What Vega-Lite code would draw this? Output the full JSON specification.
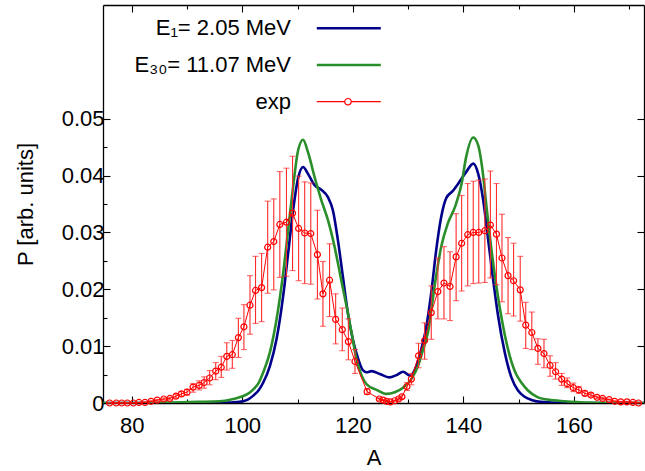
{
  "$schema": "https://vega.github.io/schema/vega-lite/v6.json",
  "autosize": {"type": "none"},
  "padding": {"left": 103, "top": 5, "right": 1, "bottom": 68},
  "width": 541,
  "height": 398,
  "background": "white",
  "config": {
    "font": "Liberation Sans",
    "view": {"stroke": null},
    "axis": {
      "domainColor": "black", "domainWidth": 1.3, "tickColor": "black", "tickWidth": 1.1,
      "labelFont": "Liberation Sans", "labelFontSize": 22, "labelColor": "black",
      "titleFont": "Liberation Sans", "titleFontSize": 22, "titleFontWeight": "normal", "titleColor": "black",
      "grid": false, "labelOverlap": false, "labelFlush": false, "labelBound": false
    }
  },
  "datasets": {
    "theory": [
      {"A": 74.8, "P": 0, "s": "E₁= 2.05 MeV"},
      {"A": 90, "P": 0, "s": "E₁= 2.05 MeV"},
      {"A": 96, "P": 0, "s": "E₁= 2.05 MeV"},
      {"A": 98, "P": 0.0001, "s": "E₁= 2.05 MeV"},
      {"A": 99.5, "P": 0.0002, "s": "E₁= 2.05 MeV"},
      {"A": 101, "P": 0.0006, "s": "E₁= 2.05 MeV"},
      {"A": 102, "P": 0.0013, "s": "E₁= 2.05 MeV"},
      {"A": 103, "P": 0.0023, "s": "E₁= 2.05 MeV"},
      {"A": 103.8, "P": 0.0036, "s": "E₁= 2.05 MeV"},
      {"A": 105.0, "P": 0.0065, "s": "E₁= 2.05 MeV"},
      {"A": 106.2, "P": 0.0112, "s": "E₁= 2.05 MeV"},
      {"A": 107.4, "P": 0.0188, "s": "E₁= 2.05 MeV"},
      {"A": 108.3, "P": 0.0263, "s": "E₁= 2.05 MeV"},
      {"A": 109.2, "P": 0.0339, "s": "E₁= 2.05 MeV"},
      {"A": 110.1, "P": 0.0395, "s": "E₁= 2.05 MeV"},
      {"A": 111.0, "P": 0.0415, "s": "E₁= 2.05 MeV"},
      {"A": 111.9, "P": 0.0403, "s": "E₁= 2.05 MeV"},
      {"A": 113.1, "P": 0.0383, "s": "E₁= 2.05 MeV"},
      {"A": 114.3, "P": 0.0375, "s": "E₁= 2.05 MeV"},
      {"A": 115.5, "P": 0.0362, "s": "E₁= 2.05 MeV"},
      {"A": 116.4, "P": 0.0339, "s": "E₁= 2.05 MeV"},
      {"A": 117.3, "P": 0.0287, "s": "E₁= 2.05 MeV"},
      {"A": 118.2, "P": 0.0223, "s": "E₁= 2.05 MeV"},
      {"A": 119.1, "P": 0.0159, "s": "E₁= 2.05 MeV"},
      {"A": 120.0, "P": 0.0112, "s": "E₁= 2.05 MeV"},
      {"A": 121.0, "P": 0.0077, "s": "E₁= 2.05 MeV"},
      {"A": 121.8, "P": 0.0058, "s": "E₁= 2.05 MeV"},
      {"A": 122.5, "P": 0.0054, "s": "E₁= 2.05 MeV"},
      {"A": 123.4, "P": 0.0056, "s": "E₁= 2.05 MeV"},
      {"A": 124.9, "P": 0.0051, "s": "E₁= 2.05 MeV"},
      {"A": 126.6, "P": 0.0045, "s": "E₁= 2.05 MeV"},
      {"A": 127.9, "P": 0.0049, "s": "E₁= 2.05 MeV"},
      {"A": 129.1, "P": 0.0055, "s": "E₁= 2.05 MeV"},
      {"A": 130.4, "P": 0.0048, "s": "E₁= 2.05 MeV"},
      {"A": 131.5, "P": 0.0065, "s": "E₁= 2.05 MeV"},
      {"A": 132.4, "P": 0.0095, "s": "E₁= 2.05 MeV"},
      {"A": 133.2, "P": 0.0128, "s": "E₁= 2.05 MeV"},
      {"A": 134.2, "P": 0.0194, "s": "E₁= 2.05 MeV"},
      {"A": 135.1, "P": 0.0269, "s": "E₁= 2.05 MeV"},
      {"A": 136.0, "P": 0.0327, "s": "E₁= 2.05 MeV"},
      {"A": 136.9, "P": 0.0360, "s": "E₁= 2.05 MeV"},
      {"A": 138.1, "P": 0.0373, "s": "E₁= 2.05 MeV"},
      {"A": 139.3, "P": 0.0389, "s": "E₁= 2.05 MeV"},
      {"A": 140.5, "P": 0.0406, "s": "E₁= 2.05 MeV"},
      {"A": 141.8, "P": 0.0421, "s": "E₁= 2.05 MeV"},
      {"A": 142.7, "P": 0.0403, "s": "E₁= 2.05 MeV"},
      {"A": 143.6, "P": 0.0357, "s": "E₁= 2.05 MeV"},
      {"A": 144.5, "P": 0.0287, "s": "E₁= 2.05 MeV"},
      {"A": 145.4, "P": 0.0217, "s": "E₁= 2.05 MeV"},
      {"A": 146.3, "P": 0.0153, "s": "E₁= 2.05 MeV"},
      {"A": 147.5, "P": 0.0089, "s": "E₁= 2.05 MeV"},
      {"A": 148.7, "P": 0.0045, "s": "E₁= 2.05 MeV"},
      {"A": 149.9, "P": 0.0022, "s": "E₁= 2.05 MeV"},
      {"A": 151.1, "P": 0.0011, "s": "E₁= 2.05 MeV"},
      {"A": 152.5, "P": 0.0005, "s": "E₁= 2.05 MeV"},
      {"A": 154, "P": 0.0002, "s": "E₁= 2.05 MeV"},
      {"A": 156, "P": 0.0001, "s": "E₁= 2.05 MeV"},
      {"A": 160, "P": 0, "s": "E₁= 2.05 MeV"},
      {"A": 172.7, "P": 0, "s": "E₁= 2.05 MeV"},
      {"A": 74.8, "P": 0, "s": "E₃₀= 11.07 MeV"},
      {"A": 84, "P": 0, "s": "E₃₀= 11.07 MeV"},
      {"A": 88, "P": 0.0001, "s": "E₃₀= 11.07 MeV"},
      {"A": 92, "P": 0.0002, "s": "E₃₀= 11.07 MeV"},
      {"A": 95.9, "P": 0.0003, "s": "E₃₀= 11.07 MeV"},
      {"A": 98, "P": 0.0006, "s": "E₃₀= 11.07 MeV"},
      {"A": 99.5, "P": 0.0010, "s": "E₃₀= 11.07 MeV"},
      {"A": 101, "P": 0.0016, "s": "E₃₀= 11.07 MeV"},
      {"A": 102.0, "P": 0.0024, "s": "E₃₀= 11.07 MeV"},
      {"A": 103.0, "P": 0.0036, "s": "E₃₀= 11.07 MeV"},
      {"A": 103.8, "P": 0.0054, "s": "E₃₀= 11.07 MeV"},
      {"A": 105.0, "P": 0.0089, "s": "E₃₀= 11.07 MeV"},
      {"A": 106.2, "P": 0.0147, "s": "E₃₀= 11.07 MeV"},
      {"A": 107.4, "P": 0.0228, "s": "E₃₀= 11.07 MeV"},
      {"A": 108.3, "P": 0.0304, "s": "E₃₀= 11.07 MeV"},
      {"A": 109.2, "P": 0.0380, "s": "E₃₀= 11.07 MeV"},
      {"A": 110.1, "P": 0.0444, "s": "E₃₀= 11.07 MeV"},
      {"A": 111.0, "P": 0.0463, "s": "E₃₀= 11.07 MeV"},
      {"A": 111.9, "P": 0.0441, "s": "E₃₀= 11.07 MeV"},
      {"A": 113.1, "P": 0.0397, "s": "E₃₀= 11.07 MeV"},
      {"A": 114.3, "P": 0.0357, "s": "E₃₀= 11.07 MeV"},
      {"A": 115.5, "P": 0.0322, "s": "E₃₀= 11.07 MeV"},
      {"A": 116.7, "P": 0.0275, "s": "E₃₀= 11.07 MeV"},
      {"A": 117.9, "P": 0.0217, "s": "E₃₀= 11.07 MeV"},
      {"A": 119.1, "P": 0.0159, "s": "E₃₀= 11.07 MeV"},
      {"A": 120.0, "P": 0.0112, "s": "E₃₀= 11.07 MeV"},
      {"A": 120.6, "P": 0.0080, "s": "E₃₀= 11.07 MeV"},
      {"A": 121.6, "P": 0.0048, "s": "E₃₀= 11.07 MeV"},
      {"A": 122.5, "P": 0.0033, "s": "E₃₀= 11.07 MeV"},
      {"A": 124.3, "P": 0.0023, "s": "E₃₀= 11.07 MeV"},
      {"A": 126.1, "P": 0.0016, "s": "E₃₀= 11.07 MeV"},
      {"A": 127.6, "P": 0.0019, "s": "E₃₀= 11.07 MeV"},
      {"A": 129.1, "P": 0.0027, "s": "E₃₀= 11.07 MeV"},
      {"A": 130.6, "P": 0.0042, "s": "E₃₀= 11.07 MeV"},
      {"A": 131.8, "P": 0.0065, "s": "E₃₀= 11.07 MeV"},
      {"A": 132.6, "P": 0.0090, "s": "E₃₀= 11.07 MeV"},
      {"A": 133.6, "P": 0.0124, "s": "E₃₀= 11.07 MeV"},
      {"A": 134.8, "P": 0.0205, "s": "E₃₀= 11.07 MeV"},
      {"A": 136.0, "P": 0.0275, "s": "E₃₀= 11.07 MeV"},
      {"A": 137.2, "P": 0.0316, "s": "E₃₀= 11.07 MeV"},
      {"A": 138.5, "P": 0.0345, "s": "E₃₀= 11.07 MeV"},
      {"A": 139.7, "P": 0.0386, "s": "E₃₀= 11.07 MeV"},
      {"A": 140.5, "P": 0.0432, "s": "E₃₀= 11.07 MeV"},
      {"A": 141.8, "P": 0.0467, "s": "E₃₀= 11.07 MeV"},
      {"A": 142.7, "P": 0.0453, "s": "E₃₀= 11.07 MeV"},
      {"A": 143.4, "P": 0.0415, "s": "E₃₀= 11.07 MeV"},
      {"A": 144.2, "P": 0.0345, "s": "E₃₀= 11.07 MeV"},
      {"A": 145.1, "P": 0.0269, "s": "E₃₀= 11.07 MeV"},
      {"A": 146.0, "P": 0.0205, "s": "E₃₀= 11.07 MeV"},
      {"A": 147.2, "P": 0.0135, "s": "E₃₀= 11.07 MeV"},
      {"A": 148.4, "P": 0.0083, "s": "E₃₀= 11.07 MeV"},
      {"A": 149.6, "P": 0.0050, "s": "E₃₀= 11.07 MeV"},
      {"A": 150.5, "P": 0.0036, "s": "E₃₀= 11.07 MeV"},
      {"A": 151.7, "P": 0.0022, "s": "E₃₀= 11.07 MeV"},
      {"A": 153.5, "P": 0.0010, "s": "E₃₀= 11.07 MeV"},
      {"A": 155.3, "P": 0.0006, "s": "E₃₀= 11.07 MeV"},
      {"A": 158.4, "P": 0.0003, "s": "E₃₀= 11.07 MeV"},
      {"A": 162, "P": 0.0001, "s": "E₃₀= 11.07 MeV"},
      {"A": 172.7, "P": 0, "s": "E₃₀= 11.07 MeV"}
    ],
    "exp": [
      {"A": 76.0, "P": 0.0, "lo": 0.0, "hi": 0.0},
      {"A": 77.2, "P": 0.0, "lo": 0.0, "hi": 0.0},
      {"A": 78.2, "P": 0.0, "lo": 0.0, "hi": 0.0},
      {"A": 79.2, "P": 0.0, "lo": 0.0, "hi": 0.0},
      {"A": 80.3, "P": 0.0, "lo": 0.0, "hi": 0.0001},
      {"A": 81.3, "P": 0.0001, "lo": 0.0, "hi": 0.0001},
      {"A": 82.4, "P": 0.0001, "lo": 0.0001, "hi": 0.0002},
      {"A": 83.5, "P": 0.0003, "lo": 0.0002, "hi": 0.0004},
      {"A": 84.6, "P": 0.0005, "lo": 0.0003, "hi": 0.0006},
      {"A": 85.8, "P": 0.0007, "lo": 0.0005, "hi": 0.0009},
      {"A": 86.9, "P": 0.0008, "lo": 0.0006, "hi": 0.0010},
      {"A": 88.0, "P": 0.0012, "lo": 0.0009, "hi": 0.0015},
      {"A": 89.0, "P": 0.0016, "lo": 0.0012, "hi": 0.0020},
      {"A": 90.0, "P": 0.0019, "lo": 0.0014, "hi": 0.0024},
      {"A": 91.1, "P": 0.0028, "lo": 0.0019, "hi": 0.0034},
      {"A": 92.2, "P": 0.0031, "lo": 0.0023, "hi": 0.0039},
      {"A": 93.1, "P": 0.0036, "lo": 0.0026, "hi": 0.0046},
      {"A": 94.1, "P": 0.0044, "lo": 0.0032, "hi": 0.0057},
      {"A": 95.2, "P": 0.0056, "lo": 0.0041, "hi": 0.0071},
      {"A": 96.2, "P": 0.0063, "lo": 0.0045, "hi": 0.0082},
      {"A": 97.2, "P": 0.0082, "lo": 0.0058, "hi": 0.0106},
      {"A": 98.2, "P": 0.0085, "lo": 0.0061, "hi": 0.0110},
      {"A": 99.3, "P": 0.0115, "lo": 0.0080, "hi": 0.0149},
      {"A": 100.3, "P": 0.0134, "lo": 0.0094, "hi": 0.0173},
      {"A": 101.4, "P": 0.0172, "lo": 0.0121, "hi": 0.0224},
      {"A": 102.4, "P": 0.0198, "lo": 0.0140, "hi": 0.0258},
      {"A": 103.5, "P": 0.0203, "lo": 0.0143, "hi": 0.0263},
      {"A": 104.6, "P": 0.0274, "lo": 0.0193, "hi": 0.0355},
      {"A": 105.7, "P": 0.0284, "lo": 0.0199, "hi": 0.0359},
      {"A": 106.8, "P": 0.0314, "lo": 0.0221, "hi": 0.0407},
      {"A": 108.0, "P": 0.0318, "lo": 0.0223, "hi": 0.0413},
      {"A": 109.1, "P": 0.0334, "lo": 0.0233, "hi": 0.0434},
      {"A": 110.2, "P": 0.0307, "lo": 0.0215, "hi": 0.0399},
      {"A": 111.3, "P": 0.0299, "lo": 0.0210, "hi": 0.0389},
      {"A": 112.4, "P": 0.0298, "lo": 0.0209, "hi": 0.0387},
      {"A": 113.6, "P": 0.0261, "lo": 0.0183, "hi": 0.0339},
      {"A": 114.6, "P": 0.0192, "lo": 0.0135, "hi": 0.0249},
      {"A": 115.8, "P": 0.0216, "lo": 0.0152, "hi": 0.0280},
      {"A": 116.9, "P": 0.0147, "lo": 0.0104, "hi": 0.0192},
      {"A": 118.1, "P": 0.0129, "lo": 0.0092, "hi": 0.0167},
      {"A": 119.2, "P": 0.0108, "lo": 0.0076, "hi": 0.0148},
      {"A": 120.4, "P": 0.0073, "lo": 0.0052, "hi": 0.0094},
      {"A": 122.6, "P": 0.0020, "lo": 0.0015, "hi": 0.0025},
      {"A": 124.8, "P": 0.0007, "lo": 0.0005, "hi": 0.0009},
      {"A": 125.5, "P": 0.0005, "lo": 0.0004, "hi": 0.0006},
      {"A": 126.1, "P": 0.0003, "lo": 0.0002, "hi": 0.0004},
      {"A": 126.8, "P": 0.0002, "lo": 0.0001, "hi": 0.0003},
      {"A": 127.6, "P": 0.0004, "lo": 0.0003, "hi": 0.0005},
      {"A": 128.3, "P": 0.0007, "lo": 0.0005, "hi": 0.0009},
      {"A": 128.9, "P": 0.0011, "lo": 0.0008, "hi": 0.0014},
      {"A": 129.8, "P": 0.0029, "lo": 0.0022, "hi": 0.0036},
      {"A": 130.6, "P": 0.0042, "lo": 0.0032, "hi": 0.0052},
      {"A": 131.9, "P": 0.0083, "lo": 0.0062, "hi": 0.0105},
      {"A": 133.0, "P": 0.0110, "lo": 0.0077, "hi": 0.0141},
      {"A": 134.2, "P": 0.0159, "lo": 0.0112, "hi": 0.0206},
      {"A": 135.4, "P": 0.0196, "lo": 0.0148, "hi": 0.0255},
      {"A": 136.5, "P": 0.0211, "lo": 0.0148, "hi": 0.0275},
      {"A": 137.6, "P": 0.0205, "lo": 0.0145, "hi": 0.0266},
      {"A": 138.7, "P": 0.0257, "lo": 0.0180, "hi": 0.0333},
      {"A": 139.7, "P": 0.0281, "lo": 0.0197, "hi": 0.0365},
      {"A": 140.8, "P": 0.0296, "lo": 0.0206, "hi": 0.0386},
      {"A": 141.8, "P": 0.0300, "lo": 0.0210, "hi": 0.0390},
      {"A": 142.8, "P": 0.0300, "lo": 0.0211, "hi": 0.0392},
      {"A": 143.9, "P": 0.0303, "lo": 0.0212, "hi": 0.0394},
      {"A": 144.9, "P": 0.0313, "lo": 0.0220, "hi": 0.0408},
      {"A": 146.0, "P": 0.0297, "lo": 0.0208, "hi": 0.0386},
      {"A": 147.0, "P": 0.0255, "lo": 0.0178, "hi": 0.0332},
      {"A": 148.1, "P": 0.0224, "lo": 0.0157, "hi": 0.0291},
      {"A": 149.1, "P": 0.0215, "lo": 0.0153, "hi": 0.0281},
      {"A": 150.3, "P": 0.0199, "lo": 0.0144, "hi": 0.0258},
      {"A": 151.3, "P": 0.0137, "lo": 0.0096, "hi": 0.0177},
      {"A": 152.4, "P": 0.0124, "lo": 0.0094, "hi": 0.0160},
      {"A": 153.5, "P": 0.0096, "lo": 0.0068, "hi": 0.0113},
      {"A": 154.6, "P": 0.0087, "lo": 0.0062, "hi": 0.0112},
      {"A": 155.7, "P": 0.0066, "lo": 0.0047, "hi": 0.0083},
      {"A": 156.7, "P": 0.0055, "lo": 0.0042, "hi": 0.0071},
      {"A": 157.8, "P": 0.0042, "lo": 0.0031, "hi": 0.0052},
      {"A": 158.8, "P": 0.0034, "lo": 0.0027, "hi": 0.0044},
      {"A": 159.9, "P": 0.0027, "lo": 0.0020, "hi": 0.0035},
      {"A": 160.9, "P": 0.0023, "lo": 0.0017, "hi": 0.0029},
      {"A": 162.0, "P": 0.0017, "lo": 0.0013, "hi": 0.0021},
      {"A": 163.1, "P": 0.0014, "lo": 0.0011, "hi": 0.0017},
      {"A": 164.2, "P": 0.0010, "lo": 0.0008, "hi": 0.0012},
      {"A": 165.2, "P": 0.0008, "lo": 0.0006, "hi": 0.0010},
      {"A": 166.4, "P": 0.0006, "lo": 0.0005, "hi": 0.0007},
      {"A": 167.4, "P": 0.0003, "lo": 0.0002, "hi": 0.0004},
      {"A": 168.5, "P": 0.0002, "lo": 0.0001, "hi": 0.0003},
      {"A": 169.6, "P": 0.0002, "lo": 0.0001, "hi": 0.0003},
      {"A": 170.7, "P": 0.0001, "lo": 0.0, "hi": 0.0002},
      {"A": 171.7, "P": 0.0, "lo": 0.0, "hi": 0.0001}
    ]
  },
  "layer": [
    {
      "data": {"name": "theory"},
      "mark": {"type": "line", "strokeWidth": 2.6, "interpolate": "monotone", "clip": true},
      "encoding": {
        "x": {
          "field": "A", "type": "quantitative",
          "scale": {"domain": [74.8, 172.7], "nice": false, "zero": false},
          "axis": {
            "orient": "bottom", "title": "A",
            "values": [80, 90, 100, 110, 120, 130, 140, 150, 160, 170],
            "labelExpr": "datum.value % 20 == 0 ? datum.label : ''",
            "tickSize": {"condition": {"test": "datum.value % 20 == 0", "value": -7}, "value": -4},
            "labelPadding": 19, "titlePadding": 8
          }
        },
        "y": {
          "field": "P", "type": "quantitative",
          "scale": {"domain": [0, 0.07], "nice": false},
          "axis": {
            "orient": "left", "title": "P [arb. units]",
            "values": [0, 0.005, 0.01, 0.015, 0.02, 0.025, 0.03, 0.035, 0.04, 0.045, 0.05],
            "labelExpr": "datum.value == 0 ? '0' : (abs(datum.value * 100 - round(datum.value * 100)) < 0.001 ? format(datum.value, '.2f') : '')",
            "tickSize": {"condition": {"test": "abs(datum.value * 100 - round(datum.value * 100)) < 0.001", "value": -7}, "value": -4},
            "labelPadding": 6, "titlePadding": 24
          }
        },
        "color": {
          "field": "s", "type": "nominal",
          "scale": {"domain": ["E₁= 2.05 MeV", "E₃₀= 11.07 MeV", "exp"], "range": ["#00008b", "#2a8f2a", "#ff0000"]},
          "legend": {
            "orient": "none", "legendX": 50, "legendY": 12.3, "title": null, "padding": 0,
            "labelFont": "Liberation Sans", "labelFontSize": 22, "labelColor": "black",
            "labelAlign": "right", "labelOffset": 116, "labelLimit": 400,
            "symbolSize": 1024, "rowPadding": 14.7,
            "encode": {
              "symbols": {
                "update": {
                  "shape": {"signal": "datum.value === 'exp' ? 'M9.55,0H11.3M11.7,0H13.55M11.7,0A0.2,0.2 0 1 1 11.3,0A0.2,0.2 0 1 1 11.7,0' : 'M9.55,0H13.55'"},
                  "strokeWidth": {"signal": "datum.value === 'exp' ? 1.2 : 2.6"},
                  "fill": {"value": "transparent"}
                }
              }
            }
          }
        }
      }
    },
    {
      "data": {"name": "exp"},
      "mark": {"type": "rule", "color": "#ff2a2a", "strokeWidth": 1.1},
      "encoding": {
        "x": {"field": "A", "type": "quantitative", "axis": null},
        "y": {"field": "lo", "type": "quantitative", "axis": null},
        "y2": {"field": "hi"}
      }
    },
    {
      "data": {"name": "exp"},
      "mark": {"type": "tick", "orient": "horizontal", "color": "#ff2a2a", "size": 6, "thickness": 1.1},
      "encoding": {
        "x": {"field": "A", "type": "quantitative", "axis": null},
        "y": {"field": "hi", "type": "quantitative", "axis": null}
      }
    },
    {
      "data": {"name": "exp"},
      "mark": {"type": "tick", "orient": "horizontal", "color": "#ff2a2a", "size": 6, "thickness": 1.1},
      "encoding": {
        "x": {"field": "A", "type": "quantitative", "axis": null},
        "y": {"field": "lo", "type": "quantitative", "axis": null}
      }
    },
    {
      "data": {"name": "exp"},
      "mark": {"type": "line", "color": "#ff0000", "strokeWidth": 1},
      "encoding": {
        "x": {"field": "A", "type": "quantitative", "axis": null},
        "y": {"field": "P", "type": "quantitative", "axis": null}
      }
    },
    {
      "data": {"name": "exp"},
      "mark": {"type": "point", "shape": "circle", "filled": false, "color": "#ff0000", "size": 36, "strokeWidth": 1.2, "opacity": 1},
      "encoding": {
        "x": {
          "field": "A", "type": "quantitative",
          "axis": {
            "orient": "top", "title": null, "labels": false,
            "values": [80, 90, 100, 110, 120, 130, 140, 150, 160, 170],
            "tickSize": {"condition": {"test": "datum.value % 20 == 0", "value": -7}, "value": -4}
          }
        },
        "y": {
          "field": "P", "type": "quantitative",
          "axis": {
            "orient": "right", "title": null, "labels": false,
            "values": [0, 0.01, 0.02, 0.03, 0.04, 0.05],
            "tickSize": -7
          }
        }
      }
    }
  ],
  "resolve": {"axis": {"x": "independent", "y": "independent"}}
}
